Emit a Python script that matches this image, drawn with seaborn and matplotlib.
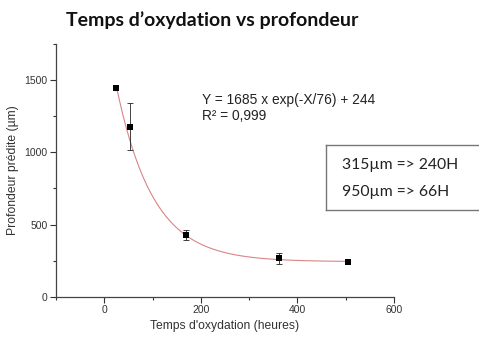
import numpy as np
import pandas as pd
import matplotlib
matplotlib.use("Agg")
import matplotlib.pyplot as plt
from matplotlib.ticker import MultipleLocator
import seaborn as sns

# Measured oxidation times (hours) and predicted depth (µm) with error bars
temps = [25, 53, 169, 361, 504]
profondeur = [1442, 1177, 428, 267, 242]
erreur = [0, 161, 33, 37, 0]

# Exponential fit parameters: Y = A * exp(-X / tau) + c
fit_A = 1685
fit_tau = 76
fit_c = 244
fit_r2 = "0,999"

x_ticks = [0, 200, 400, 600]
y_ticks = [0, 500, 1000, 1500]

sns.set_theme(style="white")
plt.rcParams["font.family"] = ["Liberation Sans", "DejaVu Sans"]

fig = plt.figure(figsize=(4.79, 3.41), dpi=100)
ax = fig.add_axes([0.1169, 0.129, 0.7056, 0.7426])

df = pd.DataFrame({"temps": temps, "profondeur": profondeur, "erreur": erreur})

xf = np.linspace(min(temps), max(temps), 300)
fit = pd.DataFrame({"temps": xf, "profondeur": fit_A * np.exp(-xf / fit_tau) + fit_c})
sns.lineplot(data=fit, x="temps", y="profondeur", ax=ax, color="#d98585", lw=0.8)

eb = df[df["erreur"] > 0]
ax.errorbar(eb["temps"], eb["profondeur"], yerr=eb["erreur"], fmt="none",
            ecolor="#222222", elinewidth=0.6, capsize=2.5, capthick=0.6)
sns.scatterplot(data=df, x="temps", y="profondeur", ax=ax, marker="s",
                color="black", s=22, edgecolor="black", linewidth=0, zorder=5)

ax.set_xlim(-100, 600)
ax.set_ylim(0, 1750)
ax.set_xticks(x_ticks)
ax.set_yticks(y_ticks)
ax.xaxis.set_minor_locator(MultipleLocator(100))
ax.yaxis.set_minor_locator(MultipleLocator(250))
ax.tick_params(axis="both", which="major", direction="out", length=4, width=0.8,
               labelsize=7.5, colors="#333333", pad=2, bottom=True, left=True)
ax.tick_params(axis="both", which="minor", direction="out", length=2.5, width=0.8,
               colors="#333333", bottom=True, left=True)
for side in ["top", "right"]:
    ax.spines[side].set_visible(False)
for side in ["left", "bottom"]:
    ax.spines[side].set_color("#444444")
    ax.spines[side].set_linewidth(0.9)

ax.set_xlabel("Temps d'oxydation (heures)", fontsize=8.7, color="#333333", labelpad=3)
ax.set_ylabel("Profondeur prédite (µm)", fontsize=8.7, color="#333333", labelpad=4)

ax.text(203, 1361, f"Y = {fit_A} x exp(-X/{fit_tau}) + {fit_c}",
        fontsize=9.9, color="#222222", va="center")
ax.text(203, 1251, f"R² = {fit_r2}", fontsize=9.9, color="#222222", va="center")

fig.text(0.138, 0.94, "Temps d\u2019oxydation vs profondeur", fontsize=14,
         fontweight="bold", family=["Lato", "DejaVu Sans"], color="#111111", va="center")

box_ax = fig.add_axes([326 / 479, 1 - 210 / 341, 160 / 479, 65 / 341])
box_ax.set_xticks([])
box_ax.set_yticks([])
for s in box_ax.spines.values():
    s.set_color("#777777")
    s.set_linewidth(1.0)
box_ax.set_facecolor("white")
box_ax.text(0.097, 0.69, "315µm => 240H", fontsize=11.3, family=["Lato", "DejaVu Sans"],
            color="#222222", va="center", transform=box_ax.transAxes)
box_ax.text(0.097, 0.27, "950µm => 66H", fontsize=11.3, family=["Lato", "DejaVu Sans"],
            color="#222222", va="center", transform=box_ax.transAxes)

fig.savefig("out.png", dpi=100)
